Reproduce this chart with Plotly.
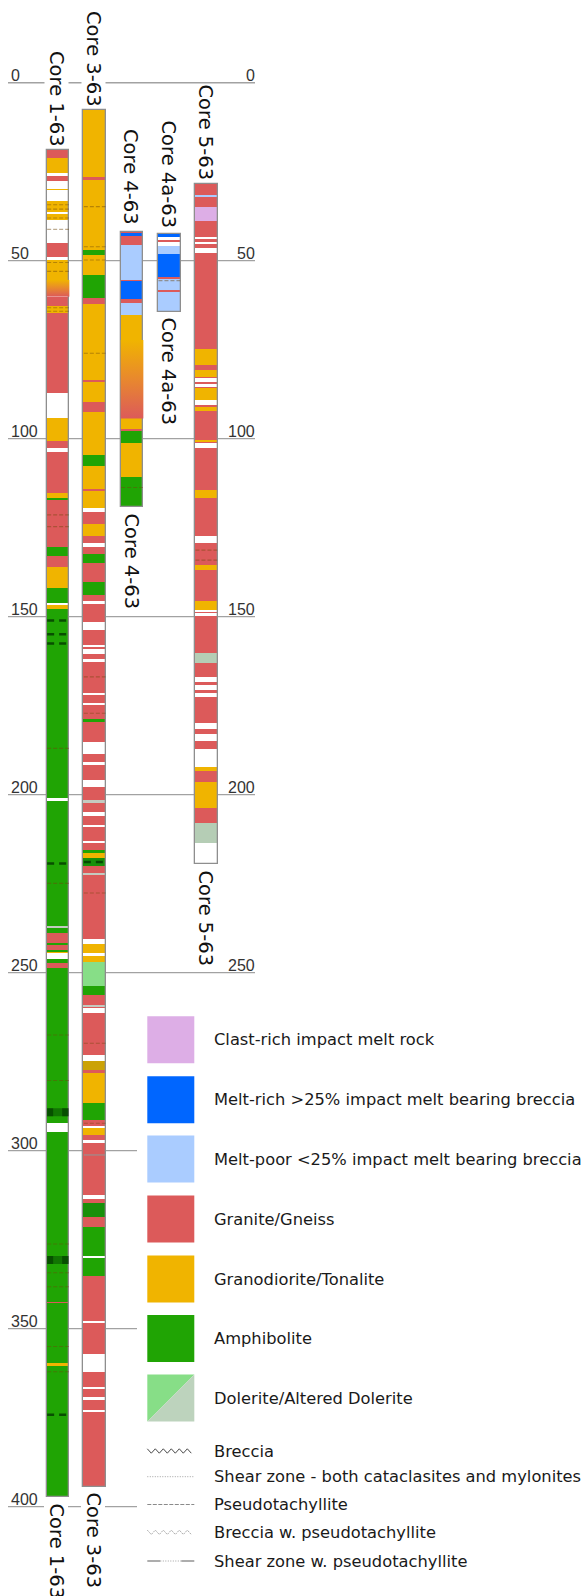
import plotly.graph_objects as go

# ---------------------------------------------------------------------------
# Drill-core lithology logs (depth in metres below collar)
# Each core: top depth of every interval, its rock code, and the core end depth
# ---------------------------------------------------------------------------
core1_tops = [18.9, 21.2, 25.3, 26.2, 27.6, 29.8, 30.1, 33.3, 36.2, 36.9, 38.6, 45.1,
              48.9, 49.9, 55.4, 60.1, 62.7, 64.8, 87.2, 94.3, 100.6, 102.7, 103.7,
              115.3, 116.7, 117.2, 130.3, 133.0, 136.1, 142.0, 146.2, 146.7, 147.9,
              201.0, 201.7, 237.1, 237.5, 238.9, 241.7, 242.2, 243.6, 244.2, 244.6,
              246.2, 247.3, 248.8, 292.1, 294.7, 342.5, 342.9, 359.7, 360.5]
core1_rocks = ["G", "T", "W", "G", "W", "T", "W", "T", "W", "T", "W", "G",
               "W", "T", "TG", "G", "T", "G", "W", "T", "G", "W", "G",
               "T", "A", "G", "A", "G", "T", "A", "W", "T", "A",
               "W", "A", "S", "A", "G", "A", "G", "A", "T", "W",
               "A", "G", "A", "W", "A", "G", "A", "T", "A"]
core1_end = 397.2

core3_tops = [7.7, 26.4, 27.3, 47.0, 48.4, 54.0, 60.6, 62.2, 83.5, 84.0, 89.6, 92.4,
              104.6, 107.8, 114.2, 114.6, 119.6, 120.6, 124.0, 127.4, 129.4, 130.3,
              132.3, 135.0, 140.2, 143.9, 145.5, 146.5, 151.6, 153.8, 158.0, 158.5,
              159.0, 160.5, 161.8, 162.7, 171.3, 171.9, 174.2, 174.9, 179.0, 179.5,
              185.1, 188.7, 190.7, 191.7, 195.9, 197.9, 201.7, 202.2, 204.8, 205.9,
              208.5, 209.2, 213.0, 213.7, 215.5, 216.5, 217.9, 220.0, 222.1, 222.6,
              240.6, 241.9, 244.6, 245.2, 246.9, 253.8, 256.3, 259.1, 259.7, 260.0,
              261.3, 273.1, 274.9, 277.3, 278.3, 286.5, 291.5, 293.3, 293.7, 295.5,
              297.0, 297.7, 312.5, 313.7, 314.7, 318.5, 321.3, 329.6, 330.2, 335.3,
              347.8, 348.4, 357.1, 362.1, 366.3, 367.0, 369.1, 370.0, 372.8, 373.5]
core3_rocks = ["T", "G", "T", "A", "T", "A", "G", "T", "G", "T", "G", "T",
               "A", "T", "G", "T", "W", "G", "T", "G", "W", "G",
               "A", "G", "A", "G", "W", "G", "W", "G", "W", "G",
               "W", "G", "W", "G", "W", "G", "W", "G", "A", "G",
               "W", "G", "W", "G", "W", "G", "S", "G", "W", "G",
               "W", "G", "W", "G", "A", "T", "AB", "G", "S", "G",
               "W", "T", "W", "T", "D", "A", "G", "S", "G", "W",
               "G", "W", "TB", "G", "T", "A", "G", "W", "T", "G",
               "W", "G", "W", "G", "AB", "G", "A", "W", "A", "G",
               "W", "G", "W", "G", "W", "G", "W", "G", "W", "G"]
core3_end = 394.4

core4_tops = [41.9, 42.3, 43.1, 45.6, 55.5, 55.8, 60.8, 61.8, 65.3, 72.3, 94.3,
              97.3, 97.7, 101.3, 110.7]
core4_rocks = ["G", "MR", "G", "MP", "G", "MR", "G", "MP", "T", "TG", "T",
               "G", "A", "T", "A"]
core4_end = 119.1

core4a_tops = [42.6, 43.4, 44.2, 44.7, 45.8, 48.1, 54.7, 55.1, 58.3, 58.7]
core4a_rocks = ["MR", "W", "G", "W", "MP", "MR", "G", "MP", "G", "MP"]
core4a_end = 64.3

core5_tops = [28.5, 31.8, 32.2, 34.8, 38.8, 43.4, 44.0, 44.8, 45.3, 46.5, 47.8,
              74.9, 79.3, 80.6, 82.6, 83.0, 84.0, 84.6, 85.4, 85.8, 89.1, 90.5,
              91.0, 92.2, 100.4, 100.8, 101.3, 102.7, 114.4, 116.7, 127.3, 129.2,
              135.5, 136.9, 145.5, 148.1, 148.7, 149.2, 149.7, 160.1, 163.1, 166.9,
              168.3, 169.2, 170.6, 171.3, 172.6, 179.9, 181.6, 182.9, 184.8, 187.2,
              192.1, 193.3, 196.3, 203.7, 208.0, 213.6]
core5_rocks = ["G", "MP", "G", "C", "G", "W", "G", "W", "G", "W", "G",
               "T", "G", "T", "G", "W", "G", "W", "G", "T", "W", "G",
               "T", "G", "T", "G", "W", "G", "T", "G", "W", "G",
               "T", "G", "T", "W", "G", "W", "G", "AD", "G", "W",
               "G", "W", "G", "W", "G", "W", "G", "W", "G", "W",
               "T", "G", "T", "G", "AD", "W"]
core5_end = 219.5

# Structural features: thin pseudotachyllite veins, dark pseudotachyllite
# bands and shear zones, given by depth
core1_veins = [34.3, 35.5, 38.0, 41.2, 50.5, 53.0, 63.2, 64.2, 121.4, 124.7, 187.0,
               224.9, 267.5, 280.3, 326.2, 334.3, 338.2, 355.0, 362.1]
core1_dark = [151.1, 154.9, 157.5, 219.3, 374.2]
core1_bands = [289.2, 330.7]
core3_veins = [34.8, 46.1, 49.8, 76.0, 166.9, 177.1, 227.6, 269.8, 292.3]
core3_dark = [218.9]
core3_shear = [301.2]
core4_veins = [113.7]
core4a_veins = [55.6]
core5_veins = [131.3, 134.1]

depth_ticks = [0, 50, 100, 150, 200, 250, 300, 350, 400]
right_ticks = [0, 50, 100, 150, 200, 250]

rock_names = ["Clast-rich impact melt rock",
              "Melt-rich >25% impact melt bearing breccia",
              "Melt-poor <25% impact melt bearing breccia",
              "Granite/Gneiss",
              "Granodiorite/Tonalite",
              "Amphibolite",
              "Dolerite/Altered Dolerite"]
structure_names = ["Breccia",
                   "Shear zone - both cataclasites and mylonites",
                   "Pseudotachyllite",
                   "Breccia w. pseudotachyllite",
                   "Shear zone w. pseudotachyllite"]

# ---------------------------------------------------------------------------
# Styling
# ---------------------------------------------------------------------------
W, H = 584, 1596
Y0_PX, PX_PER_M = 82.7, 3.56          # vertical scale of the depth axis
COL_W = 22.7

RED, YEL, GRN = "#DC5A5A", "#F0B400", "#20A404"
ROCK_COLORS = {
    "G": RED, "T": YEL, "A": GRN, "AB": "#18900A",
    "MR": "#0066FF", "MP": "#AACCFF", "C": "#DDAEE6",
    "D": "#87DE87", "AD": "#B5CDB5", "TB": "#CBA206",
    "S": "#C4CAC0", "W": "#FFFFFF",
}
LEGEND_COLORS = ["#DDAEE6", "#0066FF", "#AACCFF", RED, YEL, GRN]

cores = [
    dict(name="Core 1-63", cx=58.0, tops=core1_tops, rocks=core1_rocks, end=core1_end,
         veins=core1_veins, dark=core1_dark, bands=core1_bands, shear=[],
         top_lbl=(56.5, 98.5), bot_lbl=(56.5, 1551)),
    dict(name="Core 3-63", cx=94.7, tops=core3_tops, rocks=core3_rocks, end=core3_end,
         veins=core3_veins, dark=core3_dark, bands=[], shear=core3_shear,
         top_lbl=(93.5, 58.5), bot_lbl=(93.5, 1540)),
    dict(name="Core 4-63", cx=132.0, tops=core4_tops, rocks=core4_rocks, end=core4_end,
         veins=core4_veins, dark=[], bands=[], shear=[],
         top_lbl=(131, 177), bot_lbl=(131, 561.5)),
    dict(name="Core 4a-63", cx=169.3, tops=core4a_tops, rocks=core4a_rocks, end=core4a_end,
         veins=core4a_veins, dark=[], bands=[], shear=[],
         top_lbl=(168.5, 174), bot_lbl=(168.5, 371)),
    dict(name="Core 5-63", cx=206.3, tops=core5_tops, rocks=core5_rocks, end=core5_end,
         veins=core5_veins, dark=[], bands=[], shear=[],
         top_lbl=(205.5, 132), bot_lbl=(205.5, 918)),
]

fig = go.Figure()

for core in cores:
    cx = core["cx"]
    x0, x1 = cx - COL_W / 2, cx + COL_W / 2
    tops = core["tops"]
    bots = tops[1:] + [core["end"]]
    # solid intervals, one bar trace per rock type
    for code, color in ROCK_COLORS.items():
        sel = [(t, b) for t, b, r in zip(tops, bots, core["rocks"]) if r == code]
        if not sel:
            continue
        fig.add_trace(go.Bar(
            x=[cx] * len(sel), base=[t for t, _ in sel], y=[b - t for t, b in sel],
            width=COL_W, marker=dict(color=color, line=dict(width=0)),
            hoverinfo="skip", showlegend=False))
    # transitional granodiorite -> granite intervals
    for t, b, r in zip(tops, bots, core["rocks"]):
        if r == "TG":
            fig.add_trace(go.Scatter(
                x=[x0, x1, x1, x0, x0], y=[t, t, b, b, t], mode="lines",
                line=dict(width=0), fill="toself",
                fillgradient=dict(type="vertical", start=t, stop=b,
                                  colorscale=[[0, YEL], [0.5, "#E8882E"], [1, RED]]),
                hoverinfo="skip", showlegend=False))

    def seg_xy(depths):
        xs, ys = [], []
        for d in depths:
            xs += [x0 + 0.5, x1 - 0.5, None]
            ys += [d, d, None]
        return xs, ys

    if core["veins"]:
        xs, ys = seg_xy(core["veins"])
        fig.add_trace(go.Scatter(x=xs, y=ys, mode="lines",
                                 line=dict(color="rgba(110,70,10,0.45)", width=1.1, dash="4px,2px"),
                                 hoverinfo="skip", showlegend=False))
    if core["dark"]:
        xs, ys = seg_xy(core["dark"])
        fig.add_trace(go.Scatter(x=xs, y=ys, mode="lines",
                                 line=dict(color="rgba(0,50,0,0.75)", width=2.5, dash="7px,5px"),
                                 hoverinfo="skip", showlegend=False))
    if core["bands"]:
        xs, ys = seg_xy(core["bands"])
        fig.add_trace(go.Scatter(x=xs, y=ys, mode="lines",
                                 line=dict(color="rgba(0,60,0,0.45)", width=8),
                                 hoverinfo="skip", showlegend=False))
        fig.add_trace(go.Scatter(x=xs, y=ys, mode="lines",
                                 line=dict(color="rgba(0,50,0,0.55)", width=8, dash="6px,9px"),
                                 hoverinfo="skip", showlegend=False))
    if core["shear"]:
        xs, ys = seg_xy(core["shear"])
        fig.add_trace(go.Scatter(x=xs, y=ys, mode="lines",
                                 line=dict(color="rgba(150,150,150,0.9)", width=1.2),
                                 hoverinfo="skip", showlegend=False))

    # core outline
    fig.add_trace(go.Bar(
        x=[cx], base=[tops[0]], y=[core["end"] - tops[0]], width=COL_W,
        marker=dict(color="rgba(0,0,0,0)", line=dict(color="#8e8e8e", width=1.3)),
        hoverinfo="skip", showlegend=False))

shapes, annotations = [], []

# depth grid lines and labels
for d in depth_ticks:
    x_end = 255 if d <= 250 else 137
    shapes.append(dict(type="line", xref="x", yref="y", x0=8, x1=x_end, y0=d, y1=d,
                       line=dict(color="#a2a2a2", width=1.4 if d == 0 else 1.2), layer="below"))
    annotations.append(dict(x=9, y=d, xref="x", yref="y", xanchor="left", yanchor="bottom",
                            yshift=-3, text=str(d), showarrow=False,
                            font=dict(family="Liberation Sans", size=16, color="#333333")))
for d in right_ticks:
    annotations.append(dict(x=257, y=d, xref="x", yref="y", xanchor="right", yanchor="bottom",
                            yshift=-3, text=str(d), showarrow=False,
                            font=dict(family="Liberation Sans", size=16, color="#333333")))

# core names above and below each column
for core in cores:
    for (lx, ly) in (core["top_lbl"], core["bot_lbl"]):
        annotations.append(dict(x=lx, y=ly, xref="x", yref="y2", text=core["name"],
                                textangle=90, showarrow=False, xanchor="center", yanchor="middle",
                                bgcolor="white", borderpad=0,
                                font=dict(family="DejaVu Sans", size=19.5, color="#111111")))

# legend: rock types
SQ_X0, SQ_X1, TXT_X = 147.3, 194.3, 211.5
LEG_FONT = dict(family="DejaVu Sans", size=16.3, color="#1a1a1a")
rock_rows = [1039.7, 1099.8, 1159.0, 1219.0, 1279.0, 1338.5, 1398.0]
for i, (cy, name) in enumerate(zip(rock_rows, rock_names)):
    y0, y1 = cy - 23.5, cy + 23.5
    if i < len(LEGEND_COLORS):
        shapes.append(dict(type="rect", xref="x", yref="y2", x0=SQ_X0, x1=SQ_X1, y0=y0, y1=y1,
                           fillcolor=LEGEND_COLORS[i], line=dict(width=0)))
    else:
        shapes.append(dict(type="path", xref="x", yref="y2",
                           path=f"M{SQ_X0},{y0} L{SQ_X1},{y0} L{SQ_X0},{y1} Z",
                           fillcolor=ROCK_COLORS["D"], line=dict(width=0)))
        shapes.append(dict(type="path", xref="x", yref="y2",
                           path=f"M{SQ_X1},{y0} L{SQ_X1},{y1} L{SQ_X0},{y1} Z",
                           fillcolor="#BDD3BD", line=dict(width=0)))
    annotations.append(dict(x=TXT_X, y=cy, xref="x", yref="y2", text=name, showarrow=False,
                            xanchor="left", yanchor="middle", font=LEG_FONT))

# legend: structural features
line_rows = [1451.0, 1476.7, 1504.5, 1532.3, 1561.0]


def zigzag(y, amp=2.2, step=4.0):
    pts, x, k = [], SQ_X0, 0
    while x <= SQ_X1 + 0.01:
        pts.append((x, y + (amp if k % 2 else -amp)))
        x += step
        k += 1
    return "M" + " L".join(f"{px:.1f},{py:.1f}" for px, py in pts)


shapes.append(dict(type="path", xref="x", yref="y2", path=zigzag(line_rows[0]),
                   line=dict(color="#333333", width=0.9)))
shapes.append(dict(type="line", xref="x", yref="y2", x0=SQ_X0, x1=SQ_X1,
                   y0=line_rows[1], y1=line_rows[1],
                   line=dict(color="#a0a0a0", width=1, dash="1px,1.5px")))
shapes.append(dict(type="line", xref="x", yref="y2", x0=SQ_X0, x1=SQ_X1,
                   y0=line_rows[2], y1=line_rows[2],
                   line=dict(color="#8a8a8a", width=1.2, dash="4px,1.5px")))
shapes.append(dict(type="path", xref="x", yref="y2", path=zigzag(line_rows[3]),
                   line=dict(color="#a0a0a0", width=0.9, dash="2px,1px")))
shapes.append(dict(type="line", xref="x", yref="y2", x0=SQ_X0, x1=SQ_X0 + 13,
                   y0=line_rows[4], y1=line_rows[4], line=dict(color="#8a8a8a", width=1.4)))
shapes.append(dict(type="line", xref="x", yref="y2", x0=SQ_X0 + 13, x1=SQ_X1 - 13,
                   y0=line_rows[4], y1=line_rows[4],
                   line=dict(color="#a0a0a0", width=1, dash="1px,1.5px")))
shapes.append(dict(type="line", xref="x", yref="y2", x0=SQ_X1 - 13, x1=SQ_X1,
                   y0=line_rows[4], y1=line_rows[4], line=dict(color="#8a8a8a", width=1.4)))
for cy, name in zip(line_rows, structure_names):
    annotations.append(dict(x=TXT_X, y=cy, xref="x", yref="y2", text=name, showarrow=False,
                            xanchor="left", yanchor="middle", font=LEG_FONT))

depth_top = -Y0_PX / PX_PER_M
depth_bot = (H - Y0_PX) / PX_PER_M

fig.update_layout(
    width=W, height=H, margin=dict(l=0, r=0, t=0, b=0),
    paper_bgcolor="white", plot_bgcolor="white",
    barmode="overlay", bargap=0, showlegend=False,
    xaxis=dict(range=[0, W], visible=False, fixedrange=True),
    yaxis=dict(range=[depth_bot, depth_top], visible=False, fixedrange=True),
    yaxis2=dict(range=[H, 0], overlaying="y", visible=False, fixedrange=True),
    shapes=shapes, annotations=annotations,
)

fig.write_html("out.html")
